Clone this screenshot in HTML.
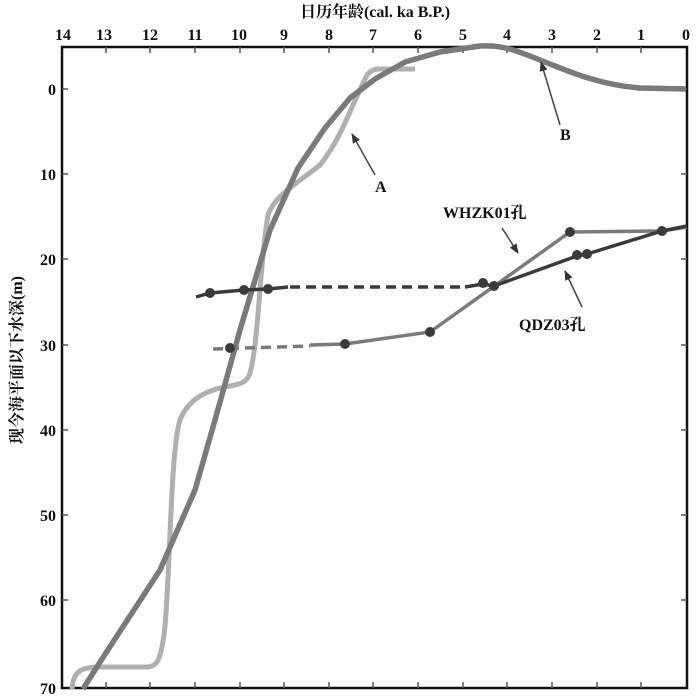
<!DOCTYPE html><html><head><meta charset="utf-8"><style>body{margin:0;background:#fff}svg{display:block}text{font-family:"Liberation Serif","Noto Serif CJK SC",serif;font-weight:bold;fill:#111}</style></head><body>
<svg width="700" height="697" viewBox="0 0 700 697">
<defs><marker id="ar" markerWidth="10" markerHeight="10" refX="9" refY="5" orient="auto" markerUnits="userSpaceOnUse"><path d="M0,1 L10,5 L0,9 z" fill="#333"/></marker></defs>
<rect x="62" y="47" width="625" height="641" fill="none" stroke="#111" stroke-width="2.5"/>
<g stroke="#555" stroke-width="1.5">
<path d="M106,47v6M150,47v6M195,47v6M240,47v6M284,47v6M329,47v6M373,47v6M418,47v6M463,47v6M507,47v6M552,47v6M597,47v6M641,47v6"/>
<path d="M106,688v-6M150,688v-6M195,688v-6M240,688v-6M284,688v-6M329,688v-6M373,688v-6M418,688v-6M463,688v-6M507,688v-6M552,688v-6M597,688v-6M641,688v-6"/>
<path d="M62,89h6M62,174h6M62,259h6M62,345h6M62,430h6M62,515h6M62,600h6"/>
<path d="M687,89h-6M687,174h-6M687,259h-6M687,345h-6M687,430h-6M687,515h-6M687,600h-6"/>
</g>
<g font-size="16" text-anchor="middle">
<text x="63" y="40">14</text><text x="104" y="40">13</text><text x="150" y="40">12</text><text x="195" y="40">11</text><text x="239" y="40">10</text><text x="284" y="40">9</text><text x="329" y="40">8</text><text x="373" y="40">7</text><text x="418" y="40">6</text><text x="463" y="40">5</text><text x="507" y="40">4</text><text x="552" y="40">3</text><text x="597" y="40">2</text><text x="641" y="40">1</text><text x="686" y="40">0</text>
</g>
<g font-size="16" text-anchor="end">
<text x="56" y="95">0</text><text x="56" y="180">10</text><text x="56" y="265">20</text><text x="56" y="351">30</text><text x="56" y="436">40</text><text x="56" y="521">50</text><text x="56" y="606">60</text><text x="56" y="694">70</text>
</g>
<text x="375" y="17" font-size="16" text-anchor="middle">日历年龄(cal. ka B.P.)</text>
<text transform="translate(22,360) rotate(-90)" font-size="16" text-anchor="middle">现今海平面以下水深(m)</text>
<path d="M72,689 C73,672 80,667 100,667 L145,667 C157,667 160,662 164,635 C170,590 170,450 180,420 C188,400 205,390 230,386 C250,382 250,380 255,345 C260,300 262,250 268,215 C275,195 295,185 320,165 C340,140 350,110 360,90 C366,76 368,70 378,69 L415,69" fill="none" stroke="#b0b0b0" stroke-width="5"/>
<path d="M83,689 L100,662 L160,570 L195,490 L215,420 L240,330 L270,230 L298,168 L325,128 L350,98 L375,79 L405,62 L440,52 L480,46 C500,45 510,48 540,60 C570,72 600,85 640,88 L686,89" fill="none" stroke="#7a7a7a" stroke-width="5.5" stroke-linejoin="round"/>
<path d="M213,349 L310,346" fill="none" stroke="#7a7a7a" stroke-width="3.5" stroke-dasharray="10,6"/>
<path d="M310,345 L345,344 L430,332 L570,232 L662,231 L687,227" fill="none" stroke="#7a7a7a" stroke-width="3.5"/>
<path d="M196,297 L210,293 L244,290 L268,289 L288,287" fill="none" stroke="#3a3a3a" stroke-width="3.5"/>
<path d="M290,287 L465,287" fill="none" stroke="#3a3a3a" stroke-width="3.5" stroke-dasharray="10,6"/>
<path d="M465,287 L483,284 L494,286 L577,256 L587,254 L662,231 L687,226" fill="none" stroke="#3a3a3a" stroke-width="3.5"/>
<g fill="#3a3a3a">
<circle cx="210" cy="293" r="5"/><circle cx="244" cy="290" r="5"/><circle cx="268" cy="289" r="5"/><circle cx="483" cy="283" r="5"/><circle cx="494" cy="286" r="5"/><circle cx="577" cy="255" r="5"/><circle cx="587" cy="254" r="5"/>
<circle cx="230" cy="348" r="5"/><circle cx="345" cy="344" r="5"/><circle cx="430" cy="332" r="5"/><circle cx="570" cy="232" r="5"/><circle cx="662" cy="231" r="5"/>
</g>
<g stroke="#444" stroke-width="1.5" fill="none" marker-end="url(#ar)">
<path d="M375,175 L352,134"/><path d="M560,125 L541,62"/><path d="M502,228 L518,253"/><path d="M582,307 L565,271"/>
</g>
<g font-size="16">
<text x="375" y="192">A</text><text x="560" y="140">B</text><text x="443" y="218">WHZK01孔</text><text x="519" y="330">QDZ03孔</text>
</g>
</svg></body></html>
